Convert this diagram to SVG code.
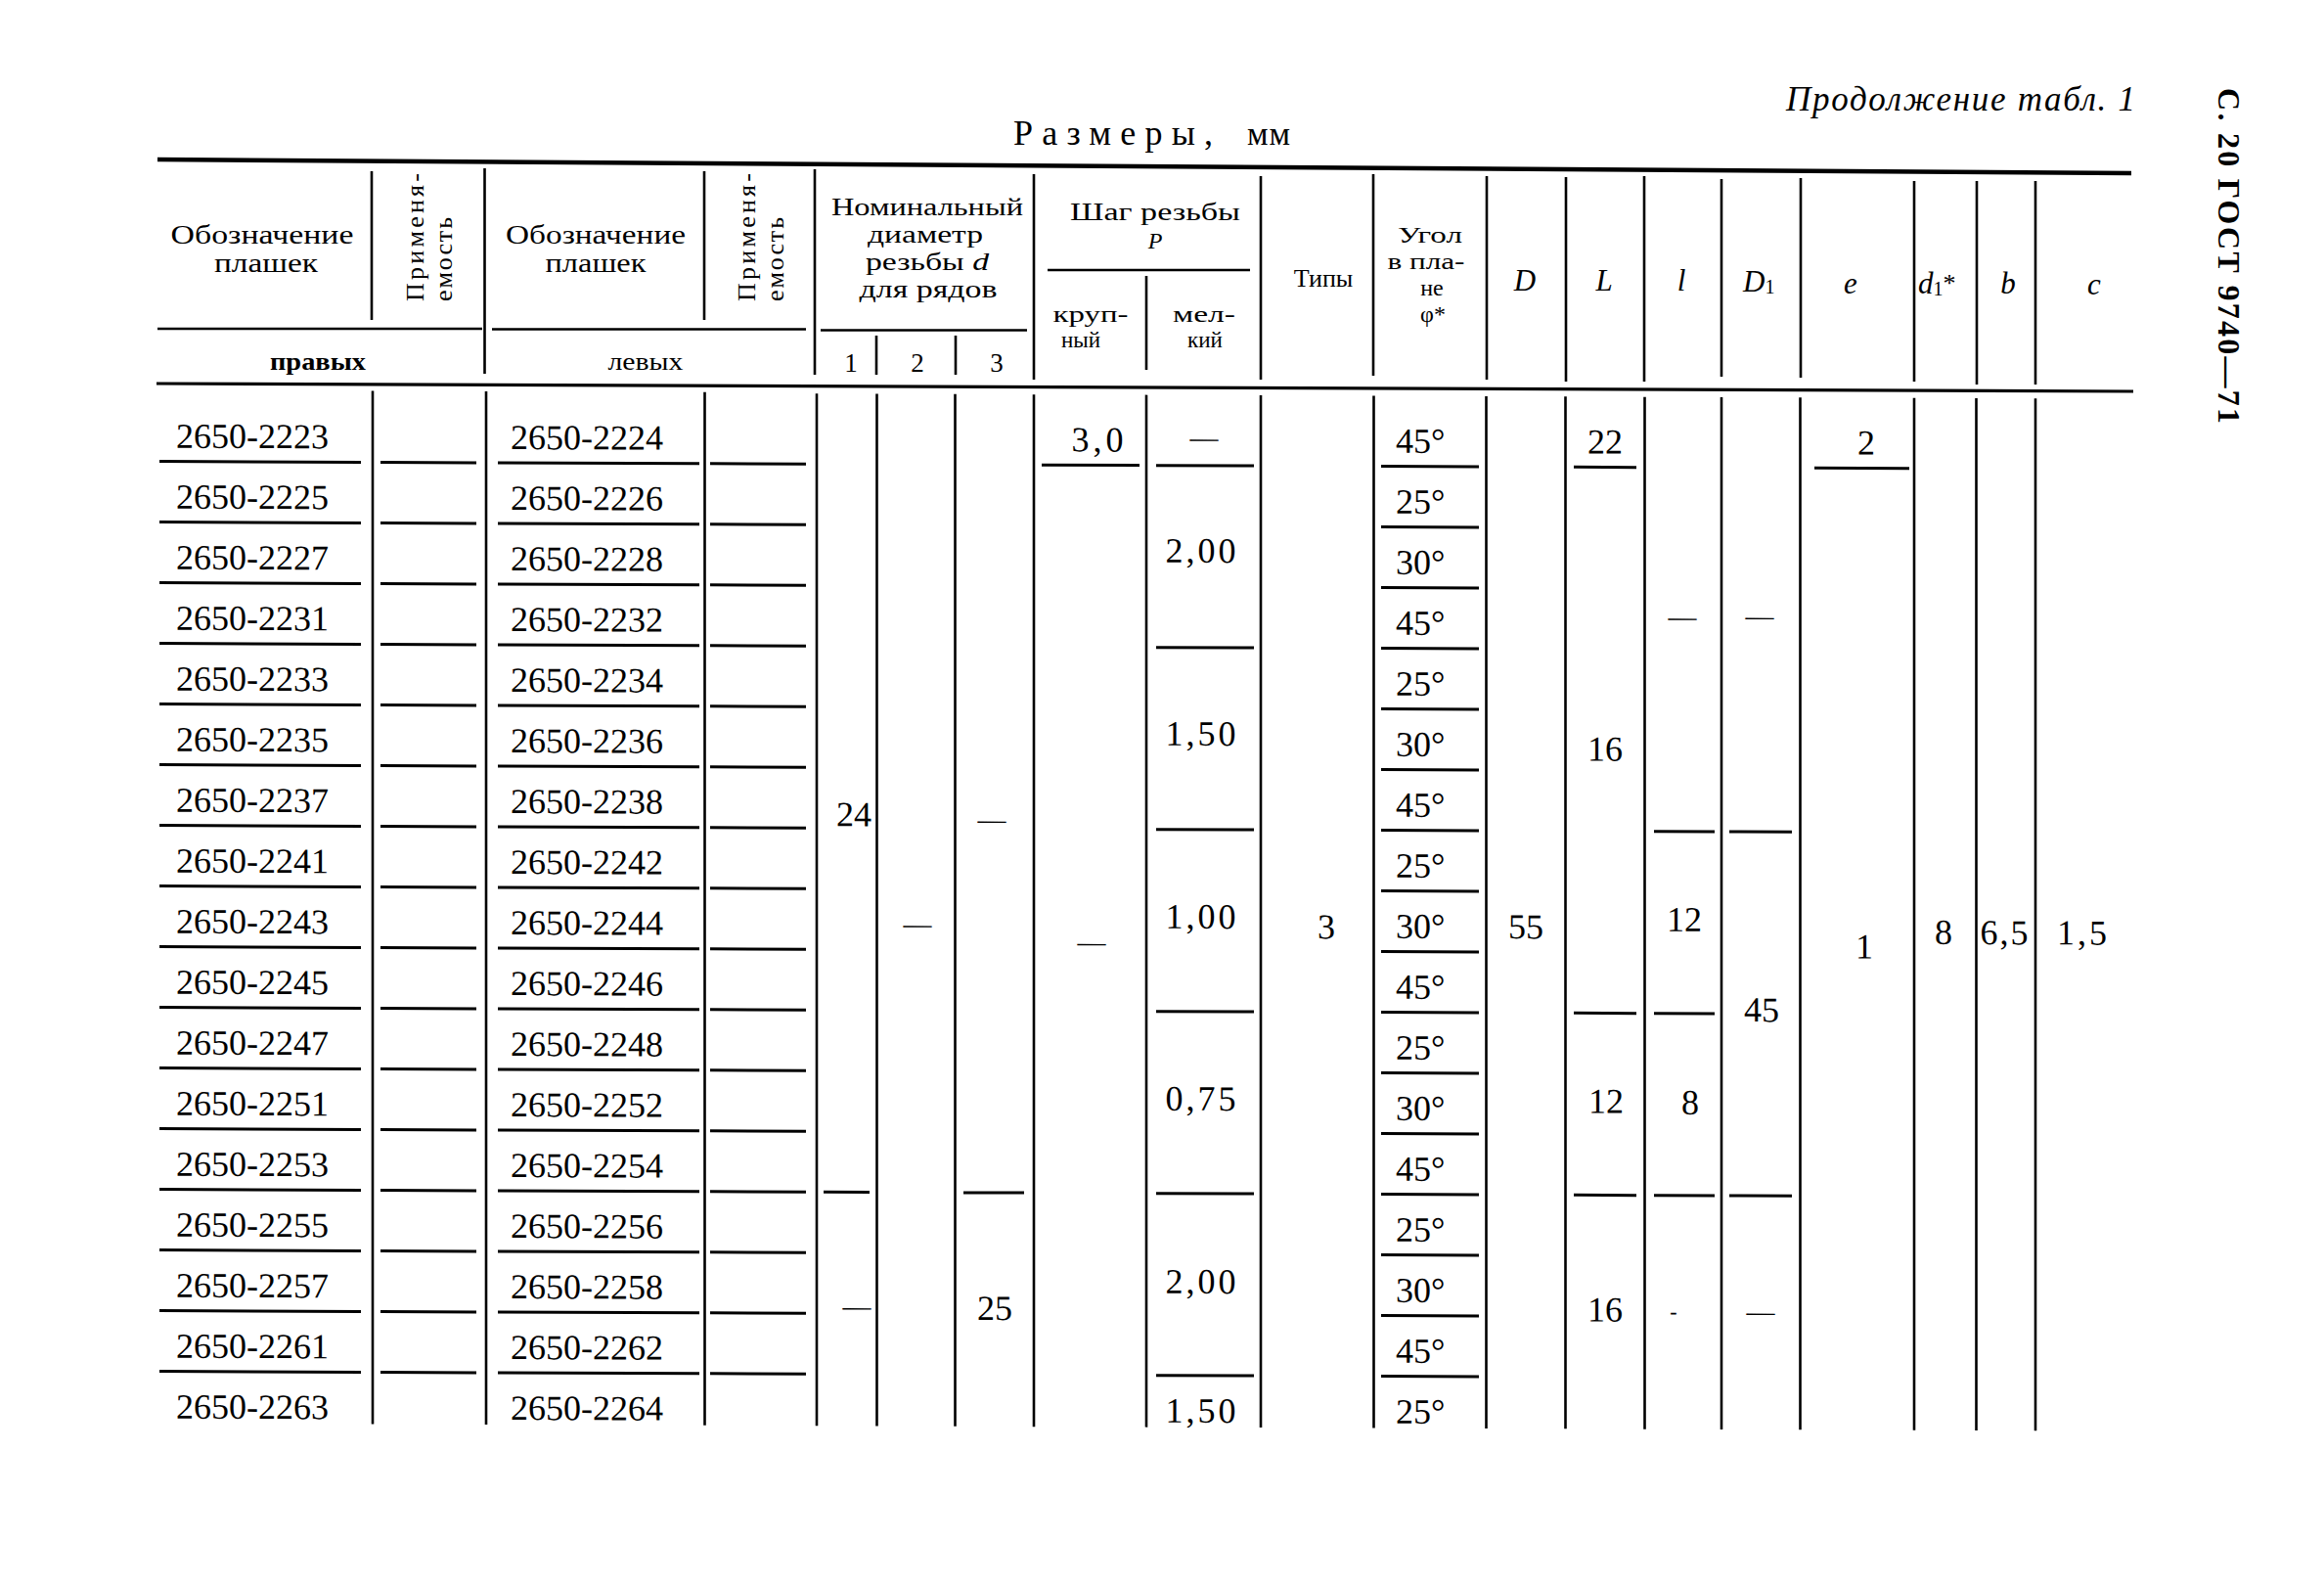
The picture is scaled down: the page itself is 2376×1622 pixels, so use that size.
<svg xmlns="http://www.w3.org/2000/svg" width="2376" height="1622" viewBox="0 0 2376 1622">
<style>
.ln{stroke:#000;stroke-width:2.6;fill:none}
.ul{stroke:#000;stroke-width:3;fill:none}
.rule{stroke:#000;fill:none}
text{font-family:"Liberation Serif","DejaVu Serif",serif;fill:#000}
.n{font-size:36px}
.c{text-anchor:middle}
.h{font-size:25px}
.i{font-style:italic}
.sg{lengthAdjust:spacingAndGlyphs}
.ds{font-size:29px;text-anchor:middle}
</style>
<rect width="2376" height="1622" fill="#fff"/>

<g id="page-titles">
<text x="1826" y="113" class="i" font-size="35" textLength="357">Продолжение табл. 1</text>
<text x="1036" y="148" font-size="36" textLength="204">Размеры,</text>
<text x="1275" y="148" font-size="34" textLength="44">мм</text>
<text transform="translate(2268,90) rotate(90)" font-size="32" font-weight="bold" textLength="343">С. 20 ГОСТ 9740—71</text>
</g>

<g id="header">
<path class="rule" stroke-width="4.5" d="M161 163L2179 177"/>
<path class="rule" stroke-width="3.2" d="M160 392L2181 400"/>
<path class="ln" d="M161 336H493M503 336.5H824M839 337.5H1050M1071 276H1278"/>
<path class="ln" d="M380 175V327M495.5 172V382M720 175V327M833 173V383M896 343V383M977 343V383M1057 178V388M1172 282V378M1289 180V388M1404 178V384M1520 180V388M1601 181V390M1681 180V390M1760 183V385M1841 182V386M1957 185V390M2021 185V393M2081 185V393"/>
<g id="h-oboz1"><text x="268" y="249" class="c" font-size="27" textLength="187" lengthAdjust="spacingAndGlyphs">Обозначение</text><text x="272" y="278" class="c" font-size="27" textLength="106" lengthAdjust="spacingAndGlyphs">плашек</text></g>
<g id="h-prim1"><text transform="translate(433,308) rotate(-90)" font-size="26" textLength="131">Применя-</text><text transform="translate(462,308) rotate(-90)" font-size="26" textLength="86">емость</text></g>
<g id="h-oboz2"><text x="609" y="249" class="c" font-size="27" textLength="184" lengthAdjust="spacingAndGlyphs">Обозначение</text><text x="609" y="278" class="c" font-size="27" textLength="103" lengthAdjust="spacingAndGlyphs">плашек</text></g>
<g id="h-prim2"><text transform="translate(772,308) rotate(-90)" font-size="26" textLength="131">Применя-</text><text transform="translate(801,308) rotate(-90)" font-size="26" textLength="86">емость</text></g>
<g id="h-nom"><text x="948" y="220" class="h c" textLength="196" lengthAdjust="spacingAndGlyphs">Номинальный</text><text x="946" y="248" class="h c" textLength="118" lengthAdjust="spacingAndGlyphs">диаметр</text><text x="948" y="276" class="h c" textLength="126" lengthAdjust="spacingAndGlyphs">резьбы <tspan class="i">d</tspan></text><text x="949" y="304" class="h c" textLength="141" lengthAdjust="spacingAndGlyphs">для рядов</text></g>
<g id="h-shag"><text x="1181" y="225" class="c" font-size="26" textLength="174" lengthAdjust="spacingAndGlyphs">Шаг резьбы</text><text x="1181" y="254" class="c i" font-size="24">P</text><text x="1115" y="329" class="c" font-size="23" textLength="77" lengthAdjust="spacingAndGlyphs">круп-</text><text x="1105" y="355" class="c" font-size="23">ный</text><text x="1231" y="329" class="c" font-size="23" textLength="64" lengthAdjust="spacingAndGlyphs">мел-</text><text x="1232" y="355" class="c" font-size="23">кий</text></g>
<g id="h-tipy"><text x="1353" y="293" class="c" font-size="26">Типы</text></g>
<g id="h-ugol"><text x="1462" y="248" class="c" font-size="24" textLength="66" lengthAdjust="spacingAndGlyphs">Угол</text><text x="1458" y="275" class="c" font-size="24" textLength="79" lengthAdjust="spacingAndGlyphs">в пла-</text><text x="1464" y="302" class="c" font-size="24">не</text><text x="1465" y="329" class="c" font-size="24">φ*</text></g>
<g id="h-dims">
<text x="1559" y="297" class="c i" font-size="31">D</text>
<text x="1640" y="297" class="c i" font-size="31">L</text>
<text x="1719" y="297" class="c i" font-size="31">l</text>
<text x="1782" y="298" class="i" font-size="31">D<tspan font-size="20" font-style="normal" dy="2">1</tspan></text>
<text x="1892" y="300" class="c i" font-size="31">e</text>
<text x="1961" y="300" class="i" font-size="31">d<tspan font-size="20" font-style="normal" dy="2">1</tspan><tspan dy="-4" font-style="normal" font-size="26">*</tspan></text>
<text x="2053" y="300" class="c i" font-size="31">b</text>
<text x="2141" y="301" class="c i" font-size="31">c</text>
</g>
<g id="h-sub"><text x="325" y="378" class="c" font-size="26" font-weight="bold" textLength="98" lengthAdjust="spacingAndGlyphs">правых</text><text x="660" y="378" class="c" font-size="26" textLength="77" lengthAdjust="spacingAndGlyphs">левых</text><text x="870" y="380" class="c" font-size="27">1</text><text x="938" y="380" class="c" font-size="27">2</text><text x="1019" y="380" class="c" font-size="27">3</text></g>
</g>

<g id="body" transform="translate(0,-1.064) skewY(0.2292)">
<g id="connectors">
<path class="ln" d="M381 399V1455M497 399V1455M720.5 399V1455M835 400V1455M896.5 400V1455M976.5 400V1455M1057 400V1455M1172 400V1455M1289 400V1455M1404.5 400V1455M1519.5 400V1455M1600.5 400V1455M1681.5 400V1455M1760 400V1455M1840.5 400V1455M1957 400V1455M2020.5 400V1455M2081 400V1455"/>
<path class="ul" d="M163 472H369M163 534H369M163 596H369M163 658H369M163 720H369M163 782H369M163 844H369M163 906H369M163 968H369M163 1030H369M163 1092H369M163 1154H369M163 1216H369M163 1278H369M163 1340H369M163 1402H369"/>
<path class="ul" d="M389 472H487M389 534H487M389 596H487M389 658H487M389 720H487M389 782H487M389 844H487M389 906H487M389 968H487M389 1030H487M389 1092H487M389 1154H487M389 1216H487M389 1278H487M389 1340H487M389 1402H487"/>
<path class="ul" d="M509 472H715M509 534H715M509 596H715M509 658H715M509 720H715M509 782H715M509 844H715M509 906H715M509 968H715M509 1030H715M509 1092H715M509 1154H715M509 1216H715M509 1278H715M509 1340H715M509 1402H715"/>
<path class="ul" d="M726 472H824M726 534H824M726 596H824M726 658H824M726 720H824M726 782H824M726 844H824M726 906H824M726 968H824M726 1030H824M726 1092H824M726 1154H824M726 1216H824M726 1278H824M726 1340H824M726 1402H824"/>
<path class="ul" d="M1412 472H1512M1412 534H1512M1412 596H1512M1412 658H1512M1412 720H1512M1412 782H1512M1412 844H1512M1412 906H1512M1412 968H1512M1412 1030H1512M1412 1092H1512M1412 1154H1512M1412 1216H1512M1412 1278H1512M1412 1340H1512M1412 1402H1512"/>
<path class="ul" d="M842 1216H889M985 1216H1047M1065 472H1165"/>
<path class="ul" d="M1182 472H1282M1182 658H1282M1182 844H1282M1182 1030H1282M1182 1216H1282M1182 1402H1282"/>
<path class="ul" d="M1609 472H1673M1609 1030H1673M1609 1216H1673M1691 844H1753M1691 1030H1753M1691 1216H1753M1768 844H1832M1768 1216H1832M1855 472H1952"/>
</g>

<g id="right-designations">
<text x="258" y="458" class="n c">2650-2223</text>
<text x="258" y="520" class="n c">2650-2225</text>
<text x="258" y="582" class="n c">2650-2227</text>
<text x="258" y="644" class="n c">2650-2231</text>
<text x="258" y="706" class="n c">2650-2233</text>
<text x="258" y="768" class="n c">2650-2235</text>
<text x="258" y="830" class="n c">2650-2237</text>
<text x="258" y="892" class="n c">2650-2241</text>
<text x="258" y="954" class="n c">2650-2243</text>
<text x="258" y="1016" class="n c">2650-2245</text>
<text x="258" y="1078" class="n c">2650-2247</text>
<text x="258" y="1140" class="n c">2650-2251</text>
<text x="258" y="1202" class="n c">2650-2253</text>
<text x="258" y="1264" class="n c">2650-2255</text>
<text x="258" y="1326" class="n c">2650-2257</text>
<text x="258" y="1388" class="n c">2650-2261</text>
<text x="258" y="1450" class="n c">2650-2263</text>
</g>
<g id="left-designations">
<text x="600" y="458" class="n c">2650-2224</text>
<text x="600" y="520" class="n c">2650-2226</text>
<text x="600" y="582" class="n c">2650-2228</text>
<text x="600" y="644" class="n c">2650-2232</text>
<text x="600" y="706" class="n c">2650-2234</text>
<text x="600" y="768" class="n c">2650-2236</text>
<text x="600" y="830" class="n c">2650-2238</text>
<text x="600" y="892" class="n c">2650-2242</text>
<text x="600" y="954" class="n c">2650-2244</text>
<text x="600" y="1016" class="n c">2650-2246</text>
<text x="600" y="1078" class="n c">2650-2248</text>
<text x="600" y="1140" class="n c">2650-2252</text>
<text x="600" y="1202" class="n c">2650-2254</text>
<text x="600" y="1264" class="n c">2650-2256</text>
<text x="600" y="1326" class="n c">2650-2258</text>
<text x="600" y="1388" class="n c">2650-2262</text>
<text x="600" y="1450" class="n c">2650-2264</text>
</g>
<g id="diameter">
<text x="873" y="842" class="n c">24</text>
<text x="876" y="1342" class="ds">—</text>
<text x="938" y="951" class="ds">—</text>
<text x="1014" y="844" class="ds">—</text>
<text x="1017" y="1346" class="n c">25</text>
</g>
<g id="pitch">
<text x="1124" y="458" class="n c" letter-spacing="4">3,0</text>
<text x="1116" y="969" class="ds">—</text>
<text x="1231" y="453" class="ds">—</text>
<text x="1229" y="571" class="n c" letter-spacing="3">2,00</text>
<text x="1229" y="758" class="n c" letter-spacing="3">1,50</text>
<text x="1229" y="945" class="n c" letter-spacing="3">1,00</text>
<text x="1229" y="1131" class="n c" letter-spacing="3">0,75</text>
<text x="1229" y="1318" class="n c" letter-spacing="3">2,00</text>
<text x="1229" y="1450" class="n c" letter-spacing="3">1,50</text>
</g>
<g id="types"><text x="1356" y="955" class="n c">3</text></g>
<g id="angle">
<text x="1427" y="458" class="n">45°</text>
<text x="1427" y="520" class="n">25°</text>
<text x="1427" y="582" class="n">30°</text>
<text x="1427" y="644" class="n">45°</text>
<text x="1427" y="706" class="n">25°</text>
<text x="1427" y="768" class="n">30°</text>
<text x="1427" y="830" class="n">45°</text>
<text x="1427" y="892" class="n">25°</text>
<text x="1427" y="954" class="n">30°</text>
<text x="1427" y="1016" class="n">45°</text>
<text x="1427" y="1078" class="n">25°</text>
<text x="1427" y="1140" class="n">30°</text>
<text x="1427" y="1202" class="n">45°</text>
<text x="1427" y="1264" class="n">25°</text>
<text x="1427" y="1326" class="n">30°</text>
<text x="1427" y="1388" class="n">45°</text>
<text x="1427" y="1450" class="n">25°</text>
</g>
<g id="dim-D"><text x="1560" y="954" class="n c">55</text></g>
<g id="dim-L">
<text x="1641" y="458" class="n c">22</text>
<text x="1641" y="772" class="n c">16</text>
<text x="1642" y="1132" class="n c">12</text>
<text x="1641" y="1345" class="n c">16</text>
</g>
<g id="dim-l">
<text x="1720" y="634" class="ds">—</text>
<text x="1722" y="946" class="n c">12</text>
<text x="1728" y="1133" class="n c">8</text>
<text x="1711" y="1342" class="c" font-size="22">-</text>
</g>
<g id="dim-D1">
<text x="1799" y="633" class="ds">—</text>
<text x="1801" y="1038" class="n c">45</text>
<text x="1800" y="1344" class="ds">—</text>
</g>
<g id="dim-e">
<text x="1908" y="458" class="n c">2</text>
<text x="1906" y="973" class="n c">1</text>
</g>
<g id="dim-d1"><text x="1987" y="958" class="n c">8</text></g>
<g id="dim-b"><text x="2050" y="958" class="n c" letter-spacing="2">6,5</text></g>
<g id="dim-c"><text x="2130" y="958" class="n c" letter-spacing="3">1,5</text></g>
</g>
</svg>
